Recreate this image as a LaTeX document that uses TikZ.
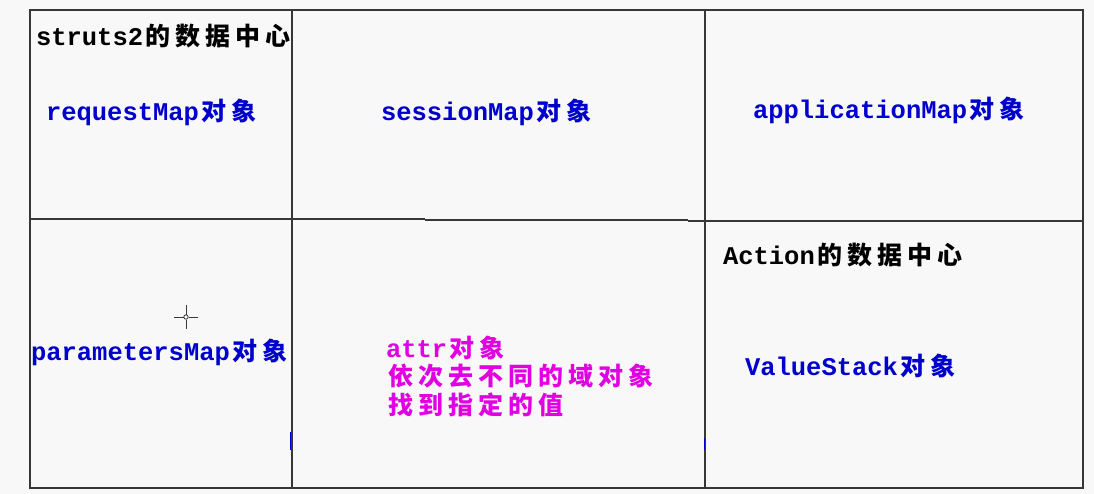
\documentclass[tikz,border=0pt]{standalone}
\usepackage{fontspec}
\newfontfamily\lat{Liberation Mono}
\newfontfamily\cjk{Noto Sans CJK SC}
\definecolor{bg}{RGB}{248,248,248}
\definecolor{ln}{RGB}{55,55,55}
\definecolor{tblue}{RGB}{0,0,205}
\definecolor{tmag}{RGB}{225,0,225}
\makeatletter
\newcommand\zh[1]{{\cjk\bfseries\fontsize{25}{28}\selectfont\@tfor\zz:=#1\do{\makebox[30pt][c]{\zz}}}}
\makeatother
\tikzset{
  lbl/.style={anchor=base west, inner sep=0pt, outer sep=0pt, align=left,
    font=\lat\bfseries\fontsize{25.5}{28.5}\selectfont},
  head/.style={lbl, text=black},
  obj/.style={lbl, text=tblue},
  note/.style={lbl, text=tmag},
  grid/.style={draw=ln, line width=1.3pt},
}
\begin{document}
\begin{tikzpicture}[x=1pt,y=-1pt]
\fill[bg] (0,0) rectangle (1094,494);
\useasboundingbox (0,0) rectangle (1094,494);
% grid
\draw[grid] (30,10) rectangle (1083,488);
\draw[grid] (292,10) -- (292,488);
\draw[grid] (705,10) -- (705,488);
\draw[grid] (30,219) -- (425,219);
\draw[grid] (425,220) -- (688,220);
\draw[grid] (688,221) -- (1083,221);
% texts
\node[head] (h1) at (36,46) {struts2\zh{的数据中心}};
\node[obj] (req) at (46,121) {requestMap\zh{对象}};
\node[obj] (ses) at (381,121) {sessionMap\zh{对象}};
\node[obj] (app) at (753,119) {applicationMap\zh{对象}};
\node[obj] (par) at (31,360) {parametersMap\zh{对象}};
\node[note] (attr) at (386,414) {attr\zh{对象}\\\zh{依次去不同的域对象}\\\zh{找到指定的值}};
\node[head] (h2) at (723,265) {Action\zh{的数据中心}};
\node[obj] (vs) at (745,375) {ValueStack\zh{对象}};
% cursor
\coordinate (cur) at (186,317);
\draw[ln, line width=0.9pt] ([xshift=-12pt]cur) -- ([xshift=-2.5pt]cur);
\draw[ln, line width=0.9pt] ([xshift=2.5pt]cur) -- ([xshift=12pt]cur);
\draw[ln, line width=0.9pt] ([yshift=-12pt]cur) -- ([yshift=-2.5pt]cur);
\draw[ln, line width=0.9pt] ([yshift=2.5pt]cur) -- ([yshift=12pt]cur);
\draw[ln, line width=0.8pt] (cur) circle (2.2pt);
% small blue ticks
\draw[tblue, line width=1.2pt] (290.5,432) -- (290.5,450);
\draw[tblue, line width=1.2pt] (704.5,438) -- (704.5,450);
\end{tikzpicture}
\end{document}
